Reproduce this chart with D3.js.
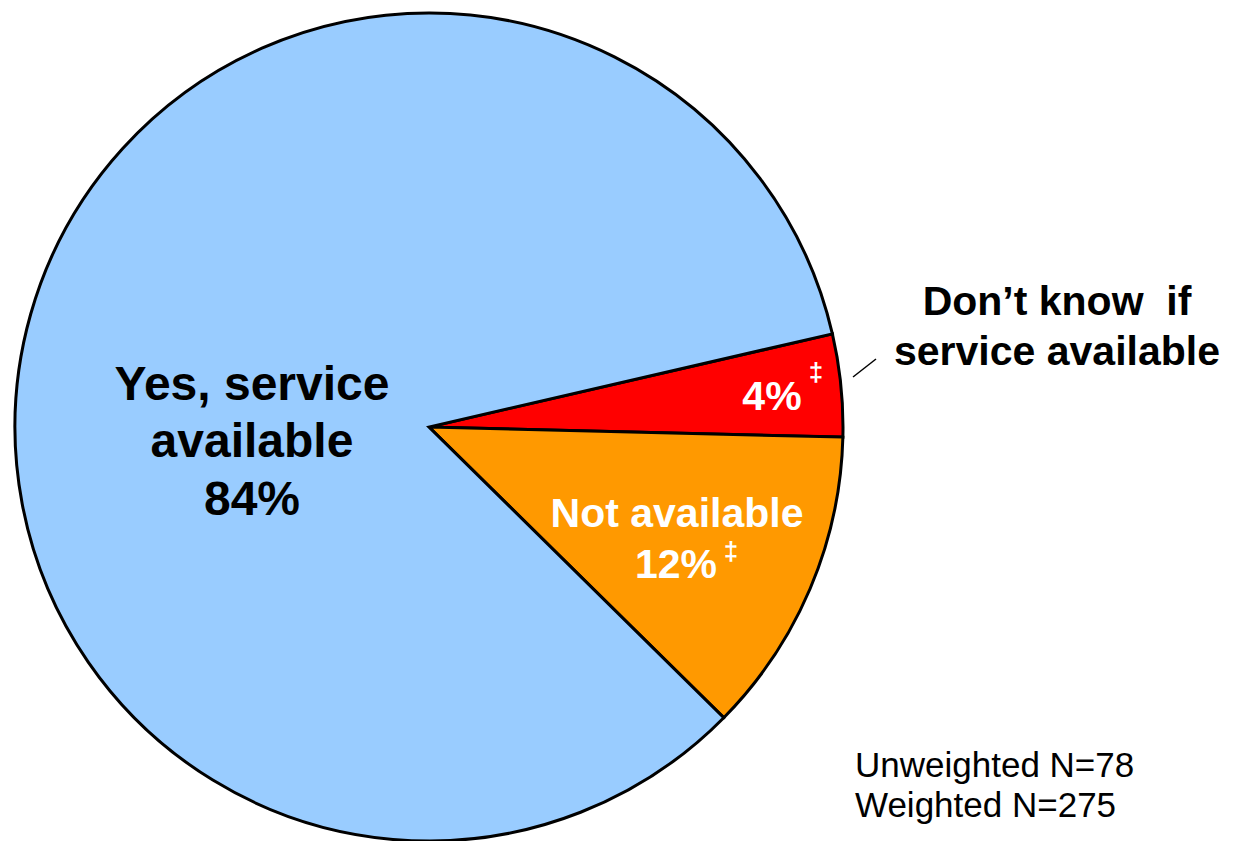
<!DOCTYPE html>
<html>
<head>
<meta charset="utf-8">
<script src="https://cdn.jsdelivr.net/npm/d3@7"></script>
<style>
  html, body { margin: 0; padding: 0; background: #ffffff; }
  svg { display: block; }
  text { font-family: Arial, "Liberation Sans", sans-serif; }
</style>
</head>
<body>
<svg id="chart" width="1251" height="841"></svg>
<script>
// Data
const categories = ["Don\u2019t know if service available", "Not available", "Yes, service available"];
const values = [4, 12, 84];
const colors = ["#FF0000", "#FF9900", "#99CCFF"];
const footnotes = ["Unweighted N=78", "Weighted N=275"];

const svg = d3.select("#chart");
const cx = 429, cy = 427, R = 414;

const pie = d3.pie()
  .sort(null)
  .value(d => d)
  .startAngle(77 * Math.PI / 180)
  .endAngle(437 * Math.PI / 180);

const arcs = pie(values);
const arc = d3.arc().innerRadius(0).outerRadius(R);

const g = svg.append("g").attr("transform", `translate(${cx},${cy})`);
g.selectAll("path.slice")
  .data(arcs)
  .join("path")
  .attr("class", "slice")
  .attr("d", arc)
  .attr("fill", (d, i) => colors[i])
  .attr("stroke", "#000")
  .attr("stroke-width", 3)
  .attr("stroke-linejoin", "miter");

// Labels
const fmt = v => v + "%";

// Yes, service available (inside blue)
const yes = svg.append("text")
  .attr("text-anchor", "middle")
  .attr("font-weight", "bold")
  .attr("font-size", 48)
  .attr("fill", "#000");
[["Yes, service", 400], ["available", 457], [fmt(values[2]), 515]].forEach(([t, y]) => {
  yes.append("tspan").attr("x", 252).attr("y", y).text(t);
});

// Not available 12% (inside orange)
svg.append("text")
  .attr("x", 677).attr("y", 527)
  .attr("text-anchor", "middle")
  .attr("font-weight", "bold").attr("font-size", 41)
  .attr("fill", "#fff")
  .text(categories[1]);
svg.append("text")
  .attr("x", 676).attr("y", 578)
  .attr("text-anchor", "middle")
  .attr("font-weight", "bold").attr("font-size", 41)
  .attr("fill", "#fff")
  .text(fmt(values[1]));
svg.append("text")
  .attr("x", 731).attr("y", 560)
  .attr("text-anchor", "middle")
  .attr("font-weight", "bold").attr("font-size", 26)
  .attr("fill", "#fff")
  .text("\u2021");

// 4% (inside red)
svg.append("text")
  .attr("x", 772).attr("y", 410)
  .attr("text-anchor", "middle")
  .attr("font-weight", "bold").attr("font-size", 41)
  .attr("fill", "#fff")
  .text(fmt(values[0]));
svg.append("text")
  .attr("x", 816).attr("y", 381)
  .attr("text-anchor", "middle")
  .attr("font-weight", "bold").attr("font-size", 26)
  .attr("fill", "#fff")
  .text("\u2021");

// Outside label for Don't know
svg.append("line")
  .attr("x1", 853).attr("y1", 377)
  .attr("x2", 876).attr("y2", 359)
  .attr("stroke", "#000").attr("stroke-width", 1.5);
const dk = svg.append("text")
  .attr("text-anchor", "middle")
  .attr("font-weight", "bold").attr("font-size", 41)
  .attr("fill", "#000")
  .style("white-space", "pre");
dk.append("tspan").attr("x", 1057).attr("y", 315).text("Don\u2019t know  if");
dk.append("tspan").attr("x", 1057).attr("y", 365).text("service available");

// Footnote
const fn = svg.append("text")
  .attr("font-size", 35)
  .attr("fill", "#000");
fn.selectAll("tspan")
  .data(footnotes)
  .join("tspan")
  .attr("x", 855)
  .attr("y", (d, i) => 777 + i * 40)
  .text(d => d);
</script>
</body>
</html>
